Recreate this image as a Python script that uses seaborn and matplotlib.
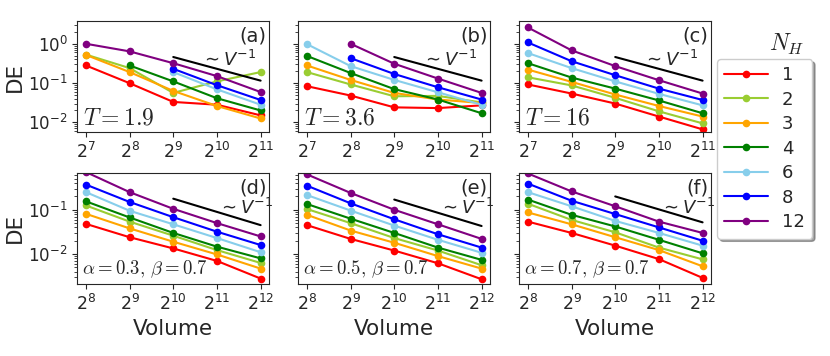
import matplotlib
matplotlib.use('Agg')
import matplotlib.pyplot as plt
from matplotlib.lines import Line2D
import seaborn as sns
import pandas as pd

# N_H values and their colours
NH = ['1', '2', '3', '4', '6', '8', '12']
COLORS = ['red', 'yellowgreen', 'orange', 'green', 'skyblue', 'blue', 'purple']

VOL_TOP = [2**7, 2**8, 2**9, 2**10, 2**11]
VOL_BOT = [2**8, 2**9, 2**10, 2**11, 2**12]

# DE values, one row per N_H (same order as NH), None = no data
DE_A = [
    [0.28, 0.099, 0.033, 0.028, 0.015],
    [0.53, 0.24, 0.056, 0.11, 0.19],
    [0.52, 0.19, 0.063, 0.026, 0.0125],
    [None, 0.28, 0.11, 0.041, 0.020],
    [None, None, 0.19, 0.069, 0.028],
    [None, None, 0.23, 0.088, 0.037],
    [1.0, 0.64, 0.32, 0.15, 0.059],
]
DE_B = [
    [0.083, 0.048, 0.024, 0.023, 0.027],
    [0.19, 0.092, 0.046, 0.047, 0.032],
    [0.28, 0.12, 0.056, 0.038, 0.031],
    [0.49, 0.18, 0.07, 0.038, 0.017],
    [0.98, 0.27, 0.12, 0.058, 0.028],
    [None, 0.43, 0.17, 0.078, 0.038],
    [None, 1.0, 0.31, 0.13, 0.056],
]
DE_C = [
    [0.092, 0.054, 0.030, 0.014, 0.0066],
    [0.14, 0.087, 0.042, 0.019, 0.0094],
    [0.22, 0.107, 0.051, 0.026, 0.014],
    [0.32, 0.138, 0.072, 0.036, 0.017],
    [0.58, 0.24, 0.11, 0.053, 0.027],
    [1.08, 0.36, 0.158, 0.072, 0.037],
    [2.6, 0.68, 0.27, 0.118, 0.054],
]
DE_D = [
    [0.048, 0.024, 0.0134, 0.0070, 0.0028],
    [0.125, 0.054, 0.026, 0.0123, 0.0063],
    [0.081, 0.038, 0.019, 0.0098, 0.0047],
    [0.155, 0.067, 0.030, 0.0147, 0.0080],
    [0.25, 0.095, 0.047, 0.023, 0.011],
    [0.37, 0.15, 0.068, 0.032, 0.016],
    [0.71, 0.25, 0.105, 0.05, 0.025],
]
DE_E = [
    [0.045, 0.022, 0.012, 0.0062, 0.0027],
    [0.104, 0.050, 0.023, 0.012, 0.0056],
    [0.077, 0.034, 0.018, 0.0090, 0.0047],
    [0.135, 0.063, 0.030, 0.014, 0.0074],
    [0.215, 0.096, 0.044, 0.021, 0.0107],
    [0.35, 0.14, 0.061, 0.028, 0.014],
    [0.63, 0.24, 0.10, 0.047, 0.022],
]
DE_F = [
    [0.054, 0.030, 0.0155, 0.0077, 0.0029],
    [0.137, 0.059, 0.031, 0.014, 0.0076],
    [0.087, 0.047, 0.024, 0.0123, 0.0053],
    [0.17, 0.077, 0.042, 0.021, 0.0104],
    [0.25, 0.12, 0.056, 0.030, 0.0155],
    [0.39, 0.16, 0.080, 0.040, 0.020],
    [0.66, 0.26, 0.12, 0.054, 0.030],
]

# ~V^-1 guide lines: (x0, x1, y0, y1)
GUIDE_A = [2**9, 2**11, 0.46, 0.115]
GUIDE_B = [2**9, 2**11, 0.46, 0.115]
GUIDE_C = [2**9, 2**11, 0.46, 0.115]
GUIDE_D = [2**10, 2**12, 0.178, 0.045]
GUIDE_E = [2**10, 2**12, 0.17, 0.043]
GUIDE_F = [2**10, 2**12, 0.20, 0.052]

LABELS = ['(a)', '(b)', '(c)', '(d)', '(e)', '(f)']
PARAMS = [r'$T=1.9$', r'$T=3.6$', r'$T=16$',
          r'$\alpha=0.3,\, \beta=0.7$', r'$\alpha=0.5,\, \beta=0.7$', r'$\alpha=0.7,\, \beta=0.7$']


def to_long(volumes, table):
    rows = []
    for nh, vals in zip(NH, table):
        for v, de in zip(volumes, vals):
            if de is not None:
                rows.append({'Volume': v, 'DE': de, 'NH': nh})
    return pd.DataFrame(rows)


sns.set_style('ticks')
plt.rcParams['font.family'] = ['DejaVu Sans']
plt.rcParams.update({'xtick.labelsize': 12.5, 'ytick.labelsize': 12, 'axes.labelsize': 15.5})

palette = dict(zip(NH, COLORS))

fig, axes = plt.subplots(2, 3, figsize=(8.3, 3.56), dpi=100, sharey='row')
fig.subplots_adjust(left=0.093, right=0.857, top=0.941, bottom=0.202, wspace=0.15, hspace=0.36)

tables = [DE_A, DE_B, DE_C, DE_D, DE_E, DE_F]
guides = [GUIDE_A, GUIDE_B, GUIDE_C, GUIDE_D, GUIDE_E, GUIDE_F]

for i, ax in enumerate(axes.flat):
    top = i < 3
    vols = VOL_TOP if top else VOL_BOT
    ax.set_xscale('log', base=2)
    ax.set_yscale('log')
    df = to_long(vols, tables[i])
    sns.lineplot(data=df, x='Volume', y='DE', hue='NH', hue_order=NH, palette=palette,
                 marker='o', markersize=5.5, markeredgewidth=0, linewidth=1.5,
                 errorbar=None, legend=False, ax=ax)
    g = guides[i]
    ax.plot([g[0], g[1]], [g[2], g[3]], color='black', linewidth=1.5)
    ax.set_xticks(vols)
    if top:
        ax.set_ylim(0.0055, 3.8)
        ax.text(0.79, 0.65, r'$\sim V^{-1}$', transform=ax.transAxes, ha='center', va='center', fontsize=13)
        ax.text(0.03, 0.03, PARAMS[i], transform=ax.transAxes, ha='left', va='bottom',
                fontsize=17, math_fontfamily='cm')
        ax.set_xlabel('')
    else:
        ax.set_ylim(0.0021, 0.69)
        ax.text(0.875, 0.68, r'$\sim V^{-1}$', transform=ax.transAxes, ha='center', va='center', fontsize=13)
        ax.text(0.026, 0.04, PARAMS[i], transform=ax.transAxes, ha='left', va='bottom',
                fontsize=13.5, math_fontfamily='cm')
        ax.set_xlabel('Volume')
    ax.text(0.985, 0.95, LABELS[i], transform=ax.transAxes, ha='right', va='top', fontsize=14)
    ax.set_ylabel('DE' if i % 3 == 0 else '', labelpad=2)

handles = [Line2D([], [], color=c, marker='o', markersize=5.5, markeredgewidth=0, linewidth=1.5)
           for c in COLORS]
fig.legend(handles, NH, loc='upper left', bbox_to_anchor=(0.864, 0.834), borderaxespad=0,
           fontsize=13, handlelength=2.4, labelspacing=0.36, shadow=True, fancybox=True, frameon=True)
fig.text(0.948, 0.874, r'$N_H$', ha='center', va='center', fontsize=17, math_fontfamily='cm')

fig.savefig('out.png', dpi=100)
